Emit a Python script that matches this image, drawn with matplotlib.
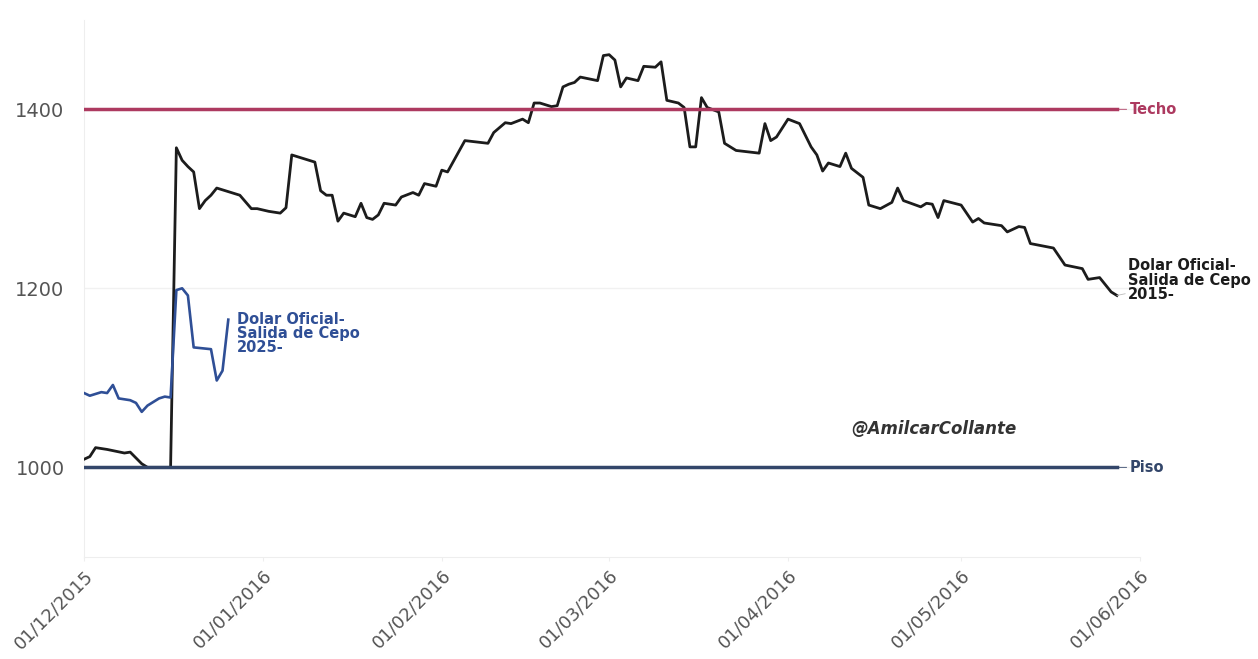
import numpy as np
import pandas as pd
import matplotlib.pyplot as plt
import matplotlib.dates as mdates

# Dolar oficial - salida de cepo 2015 (serie negra)
dates_2015 = ['2015-12-01', '2015-12-02', '2015-12-03', '2015-12-05', '2015-12-08', '2015-12-09',
              '2015-12-11', '2015-12-12', '2015-12-16', '2015-12-17', '2015-12-18', '2015-12-19',
              '2015-12-20', '2015-12-21', '2015-12-22', '2015-12-23', '2015-12-24', '2015-12-26',
              '2015-12-28', '2015-12-30', '2015-12-31', '2016-01-02', '2016-01-04', '2016-01-05',
              '2016-01-06', '2016-01-08', '2016-01-10', '2016-01-11', '2016-01-12', '2016-01-13',
              '2016-01-14', '2016-01-15', '2016-01-17', '2016-01-18', '2016-01-19', '2016-01-20',
              '2016-01-21', '2016-01-22', '2016-01-24', '2016-01-25', '2016-01-27', '2016-01-28',
              '2016-01-29', '2016-01-31', '2016-02-01', '2016-02-02', '2016-02-05', '2016-02-09',
              '2016-02-10', '2016-02-12', '2016-02-13', '2016-02-15', '2016-02-16', '2016-02-17',
              '2016-02-18', '2016-02-20', '2016-02-21', '2016-02-22', '2016-02-23', '2016-02-24',
              '2016-02-25', '2016-02-28', '2016-02-29', '2016-03-01', '2016-03-02', '2016-03-03',
              '2016-03-04', '2016-03-06', '2016-03-07', '2016-03-09', '2016-03-10', '2016-03-11',
              '2016-03-13', '2016-03-14', '2016-03-15', '2016-03-16', '2016-03-17', '2016-03-18',
              '2016-03-20', '2016-03-21', '2016-03-23', '2016-03-27', '2016-03-28', '2016-03-29',
              '2016-03-30', '2016-04-01', '2016-04-03', '2016-04-05', '2016-04-06', '2016-04-07',
              '2016-04-08', '2016-04-10', '2016-04-11', '2016-04-12', '2016-04-14', '2016-04-15',
              '2016-04-17', '2016-04-19', '2016-04-20', '2016-04-21', '2016-04-24', '2016-04-25',
              '2016-04-26', '2016-04-27', '2016-04-28', '2016-05-01', '2016-05-03', '2016-05-04',
              '2016-05-05', '2016-05-08', '2016-05-09', '2016-05-11', '2016-05-12', '2016-05-13',
              '2016-05-17', '2016-05-19', '2016-05-22', '2016-05-23', '2016-05-25', '2016-05-27',
              '2016-05-28']
dolar_2015 = [1009, 1012, 1022, 1020, 1016, 1017,
              1004, 1000, 1000, 1357, 1343, 1336,
              1330, 1289, 1298, 1304, 1312, 1308,
              1304, 1289, 1289, 1286, 1284, 1290,
              1349, 1345, 1341, 1309, 1304, 1304,
              1275, 1284, 1280, 1295, 1279, 1277,
              1282, 1295, 1293, 1302, 1307, 1304,
              1317, 1314, 1332, 1330, 1365, 1362,
              1374, 1385, 1384, 1389, 1385, 1407,
              1407, 1403, 1404, 1425, 1428, 1430,
              1436, 1432, 1460, 1461, 1455, 1425,
              1435, 1432, 1448, 1447, 1453, 1410,
              1407, 1402, 1358, 1358, 1413, 1402,
              1397, 1362, 1354, 1351, 1384, 1365,
              1369, 1389, 1384, 1358, 1349, 1331,
              1340, 1336, 1351, 1334, 1324, 1293,
              1289, 1296, 1312, 1298, 1291, 1295,
              1294, 1279, 1298, 1293, 1274, 1278,
              1273, 1270, 1263, 1269, 1268, 1250,
              1245, 1226, 1222, 1210, 1212, 1196,
              1192]

# Dolar oficial - salida de cepo 2025 (serie azul, alineada a 2015)
dates_2025 = ['2015-12-01', '2015-12-02', '2015-12-04', '2015-12-05', '2015-12-06', '2015-12-07',
              '2015-12-09', '2015-12-10', '2015-12-11', '2015-12-12', '2015-12-14', '2015-12-15',
              '2015-12-16', '2015-12-17', '2015-12-18', '2015-12-19', '2015-12-20', '2015-12-23',
              '2015-12-24', '2015-12-25', '2015-12-26']
dolar_2025 = [1083, 1080, 1084, 1083, 1092, 1077,
              1075, 1072, 1062, 1069, 1077, 1079,
              1078, 1198, 1200, 1192, 1134, 1132,
              1097, 1108, 1165]

techo = 1400
piso = 1000
y_ticks = [1000, 1200, 1400]
x_ticks = ['2015-12-01', '2016-01-01', '2016-02-01', '2016-03-01',
           '2016-04-01', '2016-05-01', '2016-06-01']

black = '#1c1c1c'
blue = '#2f4f96'
techo_color = '#ad3a60'
piso_color = '#33466a'

d15 = pd.to_datetime(dates_2015)
d25 = pd.to_datetime(dates_2025)
xt = pd.to_datetime(x_ticks)

fig = plt.figure(figsize=(12.58, 6.59), dpi=100)
ax = fig.add_axes([0.0668, 0.155, 0.8394, 0.815])

ax.plot(d15, dolar_2015, color=black, linewidth=2.0, zorder=3, solid_joinstyle='round')
ax.plot(d25, dolar_2025, color=blue, linewidth=1.9, zorder=4, solid_joinstyle='round')
ax.plot([d15[0], d15[-1]], [techo, techo], color=techo_color, linewidth=2.5, zorder=5)
ax.plot([d15[0], d15[-1]], [piso, piso], color=piso_color, linewidth=2.5, zorder=5)

ax.set_xlim(xt[0], xt[-1])
ax.set_ylim(900, 1500)
ax.set_yticks(y_ticks)
ax.set_xticks(xt)
ax.xaxis.set_major_formatter(mdates.DateFormatter('%d/%m/%Y'))

ax.tick_params(axis='y', length=0, pad=14, labelsize=14, labelcolor='#555555')
ax.tick_params(axis='x', length=3, color='#eeeeee', pad=4, labelsize=13, labelcolor='#555555')
plt.setp(ax.get_xticklabels(), rotation=45, ha='right', rotation_mode='anchor')

ax.grid(axis='y', color='#f1f1f1', linewidth=1.0)
for side in ['top', 'right']:
    ax.spines[side].set_visible(False)
ax.spines['left'].set_color('#eeeeee')
ax.spines['bottom'].set_color('#eeeeee')

ax.annotate('Techo', xy=(d15[-1], techo), xytext=(9, 0), textcoords='offset points',
            ha='left', va='center', fontsize=10.5, fontweight='bold', color=techo_color,
            arrowprops=dict(arrowstyle='-', color=techo_color, lw=0.6, shrinkA=0, shrinkB=0))
ax.annotate('Piso', xy=(d15[-1], piso), xytext=(9, 0), textcoords='offset points',
            ha='left', va='center', fontsize=10.5, fontweight='bold', color=piso_color,
            arrowprops=dict(arrowstyle='-', color=piso_color, lw=0.6, shrinkA=0, shrinkB=0))
ax.annotate('Dolar Oficial-\nSalida de Cepo\n2015-', xy=(d15[-1], dolar_2015[-1]),
            xytext=(8, 11), textcoords='offset points', ha='left', va='center',
            fontsize=10.5, fontweight='bold', color=black, linespacing=0.95,
            arrowprops=dict(arrowstyle='-', color='#bbbbbb', lw=0.6, shrinkA=0, shrinkB=0))
ax.annotate('Dolar Oficial-\nSalida de Cepo\n2025-', xy=(d25[-1], dolar_2025[-1]),
            xytext=(6, -10), textcoords='offset points', ha='left', va='center',
            fontsize=10.5, fontweight='bold', color=blue, linespacing=0.95)

ax.text(pd.Timestamp('2016-04-12'), 1043, '@AmilcarCollante', ha='left', va='center',
        fontsize=12, fontweight='bold', fontstyle='italic', color='#333333')

fig.savefig('out.png', dpi=100, facecolor='white')
